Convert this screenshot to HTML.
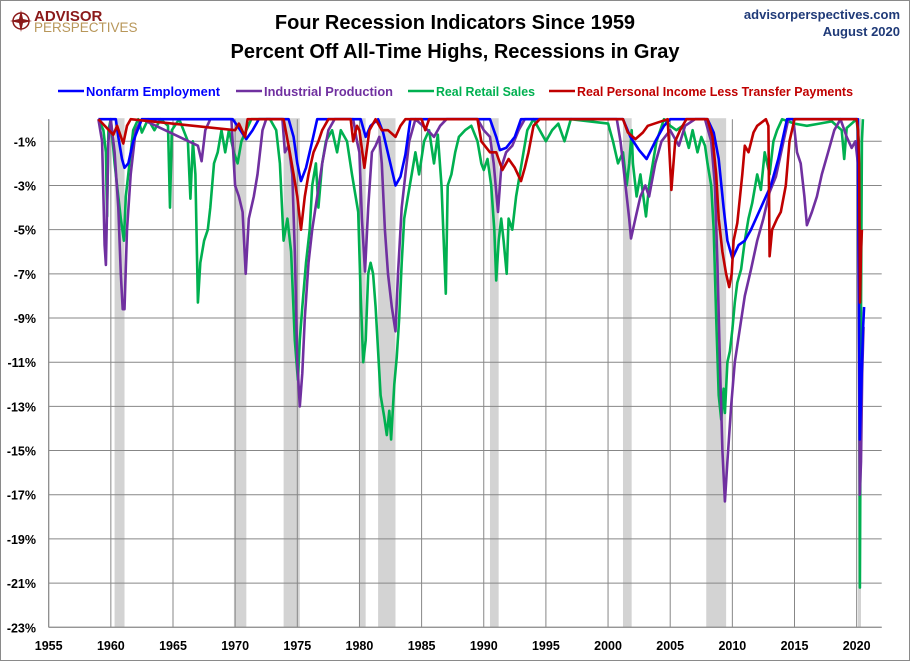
<!DOCTYPE html>
<html><head><meta charset="utf-8">
<style>
html,body{margin:0;padding:0;background:#fff;}
#wrap{position:relative;width:908px;height:659px;border:1px solid #8a8a8a;overflow:hidden;font-family:"Liberation Sans",sans-serif;}
svg{position:absolute;left:-1px;top:-1px;}
</style></head>
<body>
<div id="wrap">
<svg id="chart" width="910" height="661">
  <g>
    <circle cx="21" cy="21" r="8" fill="none" stroke="#8b1a1a" stroke-width="1.5"/>
    <polygon points="21,10 23,19 32,21 23,23 21,32 19,23 10,21 19,19" fill="#8b1a1a"/>
    <text x="34" y="21" font-size="15" font-weight="bold" fill="#8b1a1a">ADVISOR</text>
    <text x="34" y="32" font-size="13.5" fill="#b8975a">PERSPECTIVES</text>
  </g>
  <text x="455" y="29" text-anchor="middle" font-size="20" font-weight="bold" fill="#000">Four Recession Indicators Since 1959</text>
  <text x="455" y="58" text-anchor="middle" font-size="20" font-weight="bold" fill="#000">Percent Off All-Time Highs, Recessions in Gray</text>
  <text x="900" y="19" text-anchor="end" font-size="13" font-weight="bold" fill="#1f3a78">advisorperspectives.com</text>
  <text x="900" y="36" text-anchor="end" font-size="13" font-weight="bold" fill="#1f3a78">August 2020</text>
  <g id="legend"></g>
  <g id="plot"></g>
</svg>
</div>
<script>
// ---- data ----
const recStart = [1960.3,1969.9,1973.9,1980.0,1981.5,1990.5,2001.2,2007.9,2020.1];
const recEnd   = [1961.1,1970.9,1975.2,1980.5,1982.9,1991.2,2001.9,2009.5,2020.35];
const yTicks = [-1,-3,-5,-7,-9,-11,-13,-15,-17,-19,-21,-23];
const xTicks = [1955,1960,1965,1970,1975,1980,1985,1990,1995,2000,2005,2010,2015,2020];

const empYears = [1959,1960.4,1960.6,1960.9,1961.1,1961.4,1961.8,1962.5,1969.8,1970.3,1970.9,1971.4,1971.9,1974.3,1974.7,1975.0,1975.3,1975.7,1976.2,1976.6,1980.1,1980.5,1980.9,1981.5,1981.9,1982.4,1982.9,1983.3,1983.7,1984.1,1990.5,1991.0,1991.3,1991.8,1992.5,1993.0,2001.2,2001.8,2002.5,2003.1,2003.8,2004.5,2005.0,2008.0,2008.5,2008.9,2009.3,2009.6,2010.0,2010.5,2011.0,2011.5,2012.3,2013.1,2013.7,2014.4,2020.1,2020.25,2020.33,2020.42,2020.5,2020.6];
const empVals  = [0,0,-0.8,-1.8,-2.2,-2.0,-1.0,0,0,-0.4,-0.9,-0.5,0,0,-0.8,-2.0,-2.8,-2.2,-1.0,0,0,-0.8,-0.3,0,-0.6,-1.8,-3.0,-2.6,-1.6,0,0,-0.8,-1.4,-1.3,-0.8,0,0,-0.8,-1.4,-1.8,-1.0,-0.3,0,0,-0.6,-1.8,-4.0,-5.5,-6.3,-5.7,-5.5,-5.0,-4.0,-3.0,-1.8,0,0,-14.5,-13.0,-11.2,-9.6,-8.5];

const ipYears = [1959,1959.3,1959.5,1959.6,1959.8,1960.0,1960.3,1960.6,1960.8,1960.95,1961.1,1961.3,1961.6,1962.0,1962.5,1967.0,1967.3,1967.6,1968.0,1969.7,1970.0,1970.3,1970.6,1970.85,1971.1,1971.5,1971.8,1972.2,1972.5,1973.8,1974.0,1974.3,1974.6,1974.8,1975.0,1975.2,1975.4,1975.6,1975.9,1976.2,1976.6,1977.0,1977.5,1978.0,1979.5,1979.8,1980.0,1980.2,1980.45,1980.7,1981.0,1981.3,1981.6,1981.8,1982.05,1982.3,1982.6,1982.9,1983.1,1983.4,1983.7,1984.0,1984.5,1985.5,1986.0,1986.5,1987.0,1989.5,1990.0,1990.5,1990.8,1991.15,1991.4,1991.8,1992.3,1992.8,1993.3,2000.7,2001.0,2001.4,2001.7,2001.85,2002.2,2002.6,2003.0,2003.3,2003.8,2004.3,2005.0,2005.7,2006.2,2007.0,2007.8,2008.3,2008.6,2008.8,2009.0,2009.2,2009.4,2009.6,2009.9,2010.2,2010.6,2011.0,2011.5,2012.0,2012.5,2013.0,2013.5,2014.0,2014.5,2014.9,2015.2,2015.5,2015.8,2016.0,2016.4,2016.8,2017.2,2017.7,2018.2,2018.7,2019.2,2019.6,2019.9,2020.1,2020.25,2020.35,2020.45,2020.55];
const ipVals  = [0,-1.0,-5.7,-6.6,-1.0,0,-1.5,-4.0,-7.0,-8.6,-8.6,-5.0,-2.5,-0.5,0,-1.2,-1.9,-0.5,0,0,-3.0,-3.5,-4.2,-7.0,-4.5,-3.5,-2.5,-0.5,0,0,-1.5,-1.2,-2.5,-6.0,-11.0,-13.0,-11.5,-9.0,-6.5,-5.0,-3.5,-2.0,-0.5,0,0,-1.0,-1.5,-4.5,-6.9,-4.0,-1.5,-1.2,-0.8,-2.0,-5.0,-7.0,-8.5,-9.6,-7.0,-4.0,-2.5,-1.0,0,-0.5,-0.8,-0.3,0,0,-0.5,-0.8,-2.0,-4.2,-2.2,-1.5,-1.2,-0.5,0,0,-1.0,-3.0,-4.5,-5.4,-4.5,-3.5,-3.0,-3.5,-2.0,-1.0,-0.5,-1.2,-0.3,0,0,-1.0,-3.0,-6.5,-11.0,-15.0,-17.3,-15.5,-13.0,-11.0,-9.5,-8.0,-6.8,-5.5,-4.5,-3.3,-2.6,-1.3,0,0,-1.5,-2.0,-3.5,-4.8,-4.2,-3.5,-2.5,-1.5,-0.5,0,-0.8,-1.3,-1.0,-2.0,-17.0,-15.5,-11.5,-9.4];

const rsYears = [1959,1959.4,1959.6,1959.7,1959.8,1960.0,1960.3,1960.6,1960.8,1961.05,1961.2,1961.5,1961.8,1962.2,1962.5,1963.0,1963.5,1964.0,1964.6,1964.76,1964.9,1965.5,1966.2,1966.4,1966.6,1966.8,1967.0,1967.2,1967.5,1967.8,1968.0,1968.3,1968.6,1968.9,1969.2,1969.5,1969.9,1970.2,1970.5,1970.9,1971.3,1972.8,1973.3,1973.6,1973.9,1974.2,1974.5,1974.8,1975.05,1975.2,1975.4,1975.7,1976.0,1976.2,1976.5,1976.7,1977.0,1977.3,1977.8,1978.2,1978.5,1979.0,1979.4,1979.9,1980.1,1980.3,1980.5,1980.7,1980.9,1981.1,1981.3,1981.5,1981.7,1982.0,1982.2,1982.4,1982.55,1982.8,1983.0,1983.2,1983.4,1983.6,1983.9,1984.2,1984.5,1984.8,1985.2,1985.6,1986.0,1986.3,1986.6,1986.95,1987.1,1987.4,1987.7,1988.0,1988.5,1989.0,1989.5,1989.8,1990.0,1990.3,1990.6,1990.85,1991.0,1991.2,1991.4,1991.6,1991.85,1992.0,1992.3,1992.6,1992.9,1993.2,1993.5,1994.0,1994.5,1995.0,1995.5,1996.0,1996.5,1997.0,2000.0,2000.4,2000.8,2001.2,2001.5,2001.7,2001.9,2002.0,2002.3,2002.6,2003.05,2003.3,2003.6,2003.9,2004.2,2004.5,2005.0,2005.5,2006.0,2006.5,2006.8,2007.2,2007.5,2007.8,2008.0,2008.3,2008.5,2008.7,2008.9,2009.1,2009.3,2009.4,2009.6,2009.8,2010.0,2010.2,2010.4,2010.7,2011.0,2011.3,2011.6,2012.0,2012.3,2012.6,2013.0,2013.3,2013.6,2014.0,2015.0,2016.0,2017.0,2018.0,2018.8,2019.0,2019.2,2020.0,2020.17,2020.26,2020.34,2020.42,2020.5];
const rsVals  = [0,-0.5,-1.5,-4.4,-0.5,0,-2.0,-3.5,-4.5,-5.5,-3.5,-2.0,-0.5,0,-0.6,0,-0.5,0,-0.3,-4.0,-0.5,0,-1.0,-3.6,-1.0,-2.5,-8.3,-6.5,-5.5,-5.0,-4.0,-2.0,-1.5,-0.5,-1.5,-0.5,-1.5,-2.0,-1.0,-0.5,0,0,-0.5,-2.0,-5.5,-4.5,-6.0,-10.0,-11.8,-10.0,-8.5,-6.5,-5.0,-3.0,-2.0,-4.0,-2.0,-1.0,-0.5,-1.5,-0.5,-1.0,-2.5,-4.2,-8.0,-11.0,-10.0,-7.0,-6.5,-7.0,-8.5,-10.5,-12.5,-13.5,-14.3,-13.2,-14.5,-12.0,-10.8,-9.0,-6.5,-4.5,-3.5,-2.5,-1.5,-2.5,-1.0,-0.5,-2.0,-0.7,-3.0,-7.9,-3.0,-2.5,-1.5,-0.8,-0.5,-0.3,-1.0,-2.0,-2.3,-1.8,-3.0,-5.0,-7.3,-5.5,-4.5,-5.5,-7.0,-4.5,-5.0,-3.5,-2.5,-1.5,-0.5,0,-0.5,-1.0,-0.5,-0.2,-1.0,0,-0.2,-1.0,-2.0,-1.5,-3.0,-2.0,-0.5,-2.0,-3.5,-2.5,-4.4,-3.0,-2.0,-1.0,-0.5,0,-0.3,-0.5,-0.3,-1.3,-0.5,-1.5,-0.8,-1.2,-2.0,-3.0,-5.0,-9.0,-12.5,-13.6,-12.2,-13.3,-11.0,-10.5,-9.5,-8.3,-7.4,-6.8,-5.5,-4.5,-3.8,-2.5,-3.2,-1.5,-2.5,-1.0,-0.5,0,-0.2,-0.3,-0.2,-0.1,-0.5,-1.8,-0.4,0,-1.0,-21.2,-9.5,-1.0,0];

const piYears = [1959,1960.2,1960.5,1961.0,1961.3,1961.6,1970.0,1970.3,1970.8,1971.0,1973.9,1974.4,1974.7,1975.0,1975.3,1975.6,1975.9,1976.3,1976.7,1977.0,1977.5,1979.3,1979.5,1979.8,1980.0,1980.4,1980.8,1981.3,1981.8,1982.3,1982.9,1983.3,1983.7,1985.0,1985.3,1985.6,1989.5,1989.8,1990.5,1991.0,1991.5,1992.0,1992.5,1993.0,1993.3,1993.6,1994.0,1994.5,2001.2,2001.6,2002.2,2002.8,2003.2,2004.8,2005.1,2005.4,2005.8,2006.3,2008.0,2008.4,2008.7,2008.9,2009.2,2009.5,2009.75,2009.95,2010.1,2010.4,2010.8,2011.0,2011.3,2011.7,2012.0,2012.7,2012.9,2013.0,2013.2,2013.6,2013.9,2014.3,2014.6,2015.0,2020.0,2020.12,2020.2,2020.27,2020.35,2020.42];
const piVals  = [0,-0.7,-0.3,-1.1,-0.3,0,-0.5,-0.2,-0.8,0,0,-1.5,-2.5,-3.5,-5.0,-3.5,-2.5,-1.5,-1.0,-0.5,0,0,-1.0,-0.3,-0.5,-2.2,-0.5,0,-0.5,-0.5,-0.8,-0.3,0,0,-0.5,0,0,-1.0,-1.5,-1.5,-2.3,-1.8,-2.2,-2.8,-2.2,-1.5,-0.3,0,0,-0.6,-0.9,-0.6,-0.3,0,-3.2,-1.0,-0.5,0,0,-0.8,-2.5,-4.5,-6.0,-7.0,-7.6,-7.0,-5.5,-4.7,-2.5,-1.2,-1.5,-0.6,-0.3,0,-0.3,-6.2,-5.0,-4.5,-4.2,-3.0,-1.0,0,0,-0.5,-2.0,-8.3,-6.0,-5.0];

// ---- scales ----
const X0 = 48.7, PX_PER_YR = 12.43, Y0 = 119.2, PX_PER_PCT = 22.09;
const xScale = yr => X0 + (yr - 1955) * PX_PER_YR;
const yScale = v => Y0 - v * PX_PER_PCT;
const NS = "http://www.w3.org/2000/svg";
const plotG = document.getElementById('plot');
const legendG = document.getElementById('legend');
function mk(tag, attrs, parent){
  const e = document.createElementNS(NS, tag);
  for (const k in attrs) e.setAttribute(k, attrs[k]);
  parent.appendChild(e);
  return e;
}
const plotLeft = xScale(1955), plotRight = 881.7, plotTop = yScale(0), plotBottom = yScale(-23);

// recession bars
recStart.forEach((s, i) => {
  const r = mk('rect', {x: xScale(s), y: plotTop - 1, width: xScale(recEnd[i]) - xScale(s), height: plotBottom - plotTop + 1, fill: '#d3d3d3'}, plotG);
  
  
});
// horizontal grid + y labels
yTicks.forEach(t => {
  const l = mk('line', {x1: plotLeft, x2: plotRight, y1: yScale(t), y2: yScale(t), stroke: '#878787', 'stroke-width': 1}, plotG);
  
  
  const tx = mk('text', {x: 36, y: yScale(t) + 5, 'text-anchor': 'end', 'font-size': 12.5, 'font-weight': 'bold', fill: '#000'}, plotG);
  tx.textContent = t + '%';
  
  
});
// vertical grid + x labels
xTicks.forEach(t => {
  const l = mk('line', {x1: xScale(t), x2: xScale(t), y1: plotTop, y2: plotBottom, stroke: '#878787', 'stroke-width': 1}, plotG);
  
  
  const tx = mk('text', {x: xScale(t), y: 650, 'text-anchor': 'middle', 'font-size': 12.5, 'font-weight': 'bold', fill: '#000'}, plotG);
  tx.textContent = t;
  
  
});
// series
const series = [
  {name: 'retail-sales-line', years: rsYears, vals: rsVals, color: '#00b050'},
  {name: 'industrial-production-line', years: ipYears, vals: ipVals, color: '#7030a0'},
  {name: 'nonfarm-employment-line', years: empYears, vals: empVals, color: '#0000ff'},
  {name: 'personal-income-line', years: piYears, vals: piVals, color: '#c00000'}
];
series.forEach(s => {
  const n = Math.min(s.years.length, s.vals.length);
  let d = '';
  for (let i = 0; i < n; i++) {
    d += (i ? 'L' : 'M') + xScale(s.years[i]).toFixed(1) + ',' + yScale(s.vals[i]).toFixed(1);
  }
  const p = mk('path', {d: d, fill: 'none', stroke: s.color, 'stroke-width': 2.6, 'stroke-linejoin': 'round'}, plotG);
  
  
});
// axis lines
const ax = mk('line', {x1: plotLeft, x2: plotLeft, y1: plotTop, y2: plotBottom, stroke: '#878787', 'stroke-width': 1}, plotG);


const bx = mk('line', {x1: plotLeft, x2: plotRight, y1: plotBottom, y2: plotBottom, stroke: '#878787', 'stroke-width': 1}, plotG);



// legend
const legLabels = ['Nonfarm Employment','Industrial Production','Real Retail Sales','Real Personal Income Less Transfer Payments'];
const legColors = ['#0000ff','#7030a0','#00b050','#c00000'];
const legX = [58, 236, 408, 549];
const legW = [134, 129, 99, 276];
legLabels.forEach((lab, i) => {
  const l = mk('line', {x1: legX[i], x2: legX[i] + 26, y1: 91, y2: 91, stroke: legColors[i], 'stroke-width': 2.6}, legendG);
  
  
  const t = mk('text', {x: legX[i] + 28, y: 96, 'font-size': 13, 'font-weight': 'bold', fill: legColors[i], textLength: legW[i], lengthAdjust: 'spacingAndGlyphs'}, legendG);
  t.textContent = lab;
  
  
});
</script>
</body></html>
